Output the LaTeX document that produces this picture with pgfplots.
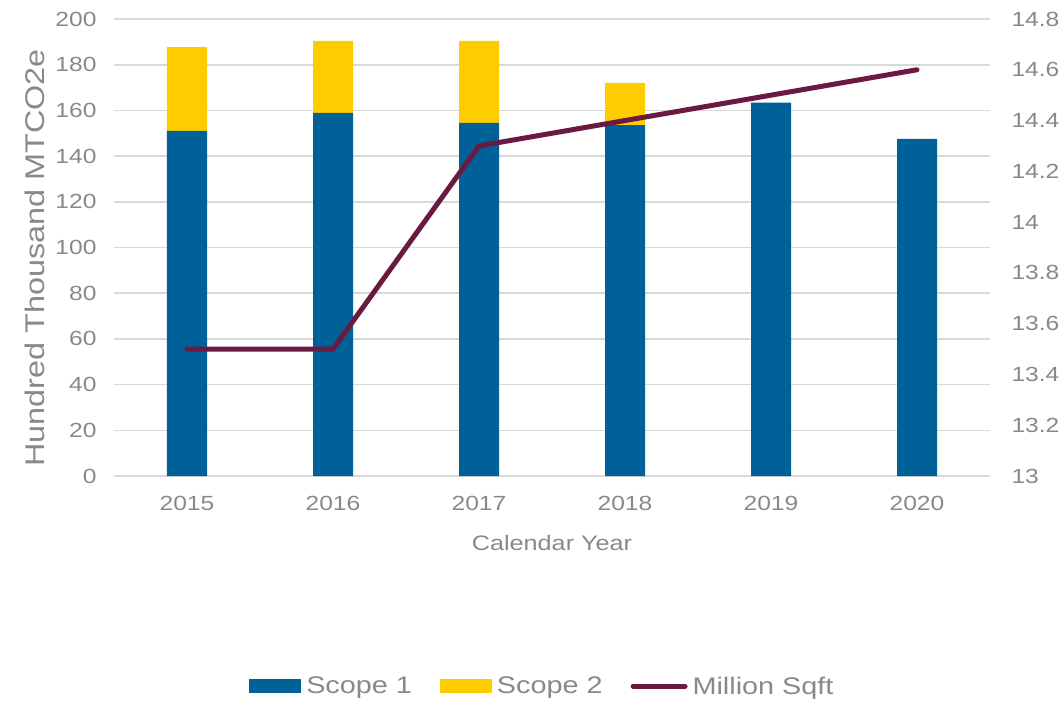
\documentclass[border=0pt]{standalone}
\usepackage{pgfplots}
\pgfplotsset{compat=1.18}
\usepackage{fontspec}
\setmainfont[FakeStretch=1.2]{Liberation Sans}

\definecolor{scopeone}{HTML}{006199}
\definecolor{scopetwo}{HTML}{FFCC00}
\definecolor{sqft}{HTML}{6A1A41}
\definecolor{txtgray}{HTML}{898989}
\definecolor{gridgray}{HTML}{D9D9D9}

\begin{document}
\begin{tikzpicture}[x=1pt,y=1pt]
\path[use as bounding box] (0,0) rectangle (1063,705);
\begin{axis}[
    at={(114pt,229pt)}, anchor=south west,
    scale only axis, width=876pt, height=457pt,
    xmin=-0.5, xmax=5.5,
    ymin=0, ymax=200,
    ytick={0,20,...,200},
    xtick={0,1,2,3,4,5},
    xticklabels={2015,2016,2017,2018,2019,2020},
    major tick length=0pt,
    axis line style={draw=none},
    ymajorgrids,
    grid style={gridgray, line width=1.6pt},
    ybar stacked, bar width=40pt,
    /pgf/number format/assume math mode=true,
    ticklabel style={font=\fontsize{20.5}{23}\selectfont, text=txtgray},
    yticklabel style={xshift=-14pt},
    xticklabel style={yshift=-17pt},
    xlabel={Calendar Year},
    xlabel style={font=\fontsize{21}{24}\selectfont, text=txtgray, at={(axis description cs:0.5,-0.147)}, anchor=center},
    ylabel={Hundred Thousand MTCO2e},
    ylabel style={font=\fontsize{27}{30}\selectfont, text=txtgray, at={(axis description cs:-0.09,0.477)}, anchor=center, rotate=0},
    legend style={draw=none, at={(0.489,-0.46)}, anchor=center, legend columns=3,
        font=\fontsize{24}{27}\selectfont, text=txtgray,
        /tikz/every odd column/.append style={column sep=3pt},
        /tikz/every even column/.append style={column sep=26pt}},
]
\addplot[fill=scopeone, draw=none,
    legend image code/.code={\fill[scopeone] (0pt,-7pt) rectangle (52pt,7pt);}]
    coordinates {(0,151.0) (1,158.9) (2,154.5) (3,153.6) (4,163.4) (5,147.5)};
\addlegendentry{Scope 1}
\addplot[fill=scopetwo, draw=none,
    legend image code/.code={\fill[scopetwo] (0pt,-7pt) rectangle (52pt,7pt);}]
    coordinates {(0,36.7) (1,31.5) (2,35.9) (3,18.5) (4,0) (5,0)};
\addlegendentry{Scope 2}
\addlegendimage{legend image code/.code={\draw[sqft, line width=5pt, line cap=round] (0pt,0pt) -- (52pt,0pt);}}
\addlegendentry{Million Sqft}
\end{axis}
\begin{axis}[
    at={(114pt,229pt)}, anchor=south west,
    scale only axis, width=876pt, height=457pt,
    xmin=-0.5, xmax=5.5,
    ymin=13, ymax=14.8,
    ytick={13,13.2,13.4,13.6,13.8,14,14.2,14.4,14.6,14.8},
    axis y line*=right, axis x line=none,
    axis line style={draw=none},
    major tick length=0pt,
    /pgf/number format/assume math mode=true,
    ticklabel style={font=\fontsize{20.5}{23}\selectfont, text=txtgray},
    yticklabel style={anchor=west, xshift=18pt},
]
\addplot[sqft, line width=5pt, line cap=round, line join=round, mark=none]
    coordinates {(0,13.5) (1,13.5) (2,14.3) (3,14.4) (4,14.5) (5,14.6)};
\end{axis}
\end{tikzpicture}
\end{document}
